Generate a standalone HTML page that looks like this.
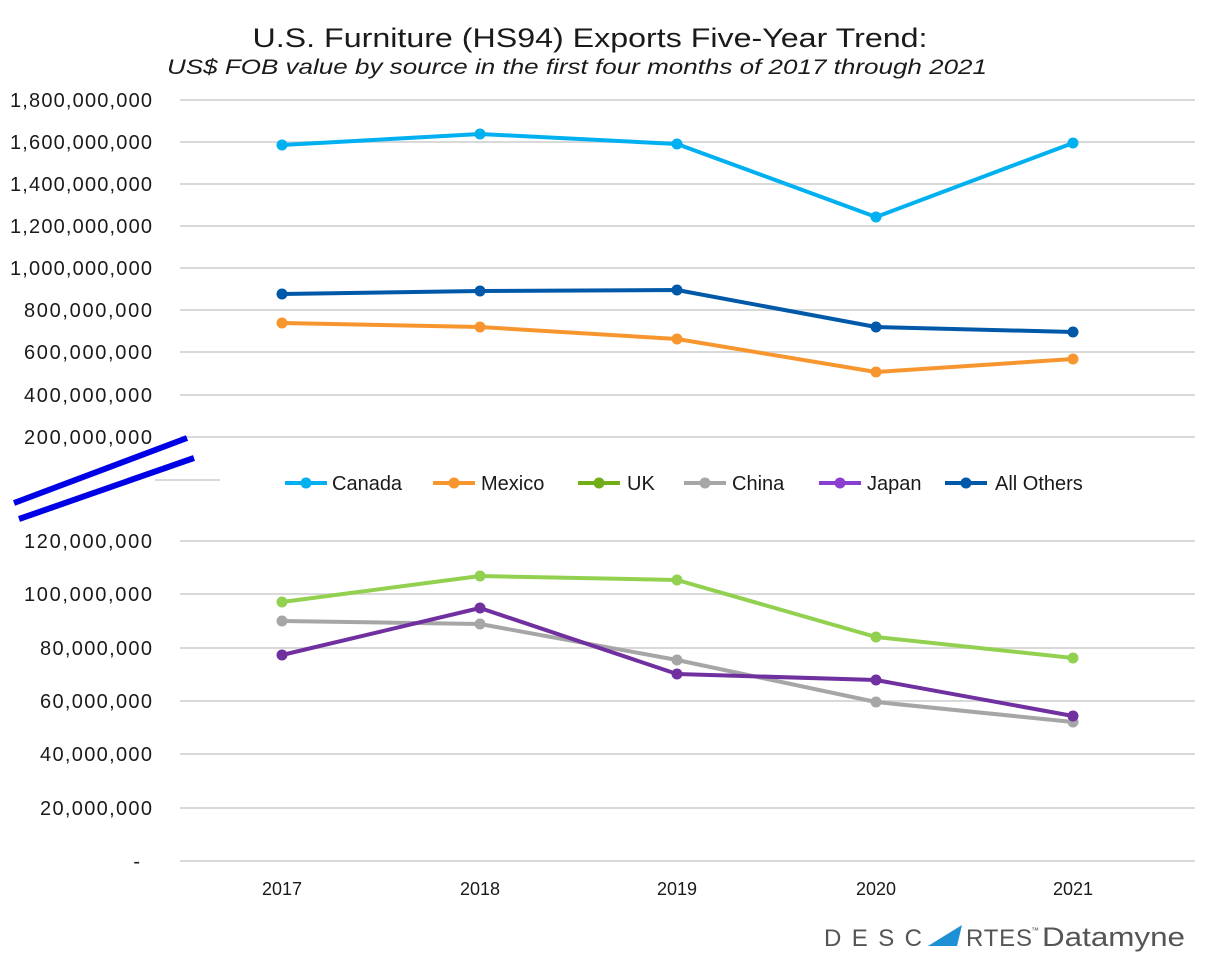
<!DOCTYPE html>
<html><head><meta charset="utf-8"><style>body{margin:0;background:#fff}svg{display:block}text{font-family:"Liberation Sans",sans-serif;fill:#1a1a1a}</style></head><body>
<svg width="1219" height="955" viewBox="0 0 1219 955">
<text x="590" y="47" font-size="27" text-anchor="middle" textLength="675" lengthAdjust="spacingAndGlyphs">U.S. Furniture (HS94) Exports Five-Year Trend:</text>
<text x="577" y="74" font-size="21" font-style="italic" text-anchor="middle" textLength="820" lengthAdjust="spacingAndGlyphs">US$ FOB value by source in the first four months of 2017 through 2021</text>
<g stroke="#d9d9d9" stroke-width="2">
<line x1="180" x2="1195" y1="100" y2="100"/><line x1="180" x2="1195" y1="142" y2="142"/><line x1="180" x2="1195" y1="184" y2="184"/><line x1="180" x2="1195" y1="226" y2="226"/><line x1="180" x2="1195" y1="268" y2="268"/><line x1="180" x2="1195" y1="310" y2="310"/><line x1="180" x2="1195" y1="352" y2="352"/><line x1="180" x2="1195" y1="395" y2="395"/><line x1="180" x2="1195" y1="437" y2="437"/><line x1="155" x2="220" y1="480" y2="480"/>
<line x1="180" x2="1195" y1="541" y2="541"/><line x1="180" x2="1195" y1="594" y2="594"/><line x1="180" x2="1195" y1="648" y2="648"/><line x1="180" x2="1195" y1="701" y2="701"/><line x1="180" x2="1195" y1="754" y2="754"/><line x1="180" x2="1195" y1="808" y2="808"/><line x1="180" x2="1195" y1="861" y2="861"/>
</g>
<g font-size="20" text-anchor="end">
<text x="152" y="107" textLength="142" lengthAdjust="spacing">1,800,000,000</text>
<text x="152" y="149" textLength="142" lengthAdjust="spacing">1,600,000,000</text>
<text x="152" y="191" textLength="142" lengthAdjust="spacing">1,400,000,000</text>
<text x="152" y="233" textLength="142" lengthAdjust="spacing">1,200,000,000</text>
<text x="152" y="275" textLength="142" lengthAdjust="spacing">1,000,000,000</text>
<text x="152" y="317" textLength="128" lengthAdjust="spacing">800,000,000</text>
<text x="152" y="359" textLength="128" lengthAdjust="spacing">600,000,000</text>
<text x="152" y="402" textLength="128" lengthAdjust="spacing">400,000,000</text>
<text x="152" y="444" textLength="128" lengthAdjust="spacing">200,000,000</text>
<text x="152" y="548" textLength="128" lengthAdjust="spacing">120,000,000</text>
<text x="152" y="601" textLength="128" lengthAdjust="spacing">100,000,000</text>
<text x="152" y="655" textLength="112" lengthAdjust="spacing">80,000,000</text>
<text x="152" y="708" textLength="112" lengthAdjust="spacing">60,000,000</text>
<text x="152" y="761" textLength="112" lengthAdjust="spacing">40,000,000</text>
<text x="152" y="815" textLength="112" lengthAdjust="spacing">20,000,000</text>
<text x="140" y="868">-</text>
</g>
<g font-size="18" text-anchor="middle">
<text x="282" y="895">2017</text><text x="480" y="895">2018</text><text x="677" y="895">2019</text><text x="876" y="895">2020</text><text x="1073" y="895">2021</text>
</g>
<g fill="none" stroke-width="4" stroke-linejoin="round">
<polyline stroke="#00b0f0" points="282,145 480,134 677,144 876,217 1073,143"/>
<polyline stroke="#0059a8" points="282,294 480,291 677,290 876,327 1073,332"/>
<polyline stroke="#f7962f" points="282,323 480,327 677,339 876,372 1073,359"/>
<polyline stroke="#92d050" points="282,602 480,576 677,580 876,637 1073,658"/>
<polyline stroke="#a6a6a6" points="282,621 480,624 677,660 876,702 1073,722"/>
<polyline stroke="#7030a0" points="282,655 480,608 677,674 876,680 1073,716"/>
</g>
<g>
<g fill="#00b0f0"><circle cx="282" cy="145" r="5.5"/><circle cx="480" cy="134" r="5.5"/><circle cx="677" cy="144" r="5.5"/><circle cx="876" cy="217" r="5.5"/><circle cx="1073" cy="143" r="5.5"/></g>
<g fill="#0059a8"><circle cx="282" cy="294" r="5.5"/><circle cx="480" cy="291" r="5.5"/><circle cx="677" cy="290" r="5.5"/><circle cx="876" cy="327" r="5.5"/><circle cx="1073" cy="332" r="5.5"/></g>
<g fill="#f7962f"><circle cx="282" cy="323" r="5.5"/><circle cx="480" cy="327" r="5.5"/><circle cx="677" cy="339" r="5.5"/><circle cx="876" cy="372" r="5.5"/><circle cx="1073" cy="359" r="5.5"/></g>
<g fill="#92d050"><circle cx="282" cy="602" r="5.5"/><circle cx="480" cy="576" r="5.5"/><circle cx="677" cy="580" r="5.5"/><circle cx="876" cy="637" r="5.5"/><circle cx="1073" cy="658" r="5.5"/></g>
<g fill="#a6a6a6"><circle cx="282" cy="621" r="5.5"/><circle cx="480" cy="624" r="5.5"/><circle cx="677" cy="660" r="5.5"/><circle cx="876" cy="702" r="5.5"/><circle cx="1073" cy="722" r="5.5"/></g>
<g fill="#7030a0"><circle cx="282" cy="655" r="5.5"/><circle cx="480" cy="608" r="5.5"/><circle cx="677" cy="674" r="5.5"/><circle cx="876" cy="680" r="5.5"/><circle cx="1073" cy="716" r="5.5"/></g>
</g>
<g stroke="#0000e6" stroke-width="6">
<line x1="14" y1="503" x2="187" y2="438"/><line x1="19" y1="519" x2="194" y2="458"/>
</g>
<g font-size="20" stroke-width="4">
<line x1="285" x2="327" y1="483" y2="483" stroke="#00b0f0"/><circle cx="306" cy="483" r="5.5" fill="#00b0f0"/><text x="332" y="490">Canada</text>
<line x1="433" x2="475" y1="483" y2="483" stroke="#f7962f"/><circle cx="454" cy="483" r="5.5" fill="#f7962f"/><text x="481" y="490">Mexico</text>
<line x1="578" x2="620" y1="483" y2="483" stroke="#70ad17"/><circle cx="599" cy="483" r="5.5" fill="#70ad17"/><text x="627" y="490">UK</text>
<line x1="684" x2="726" y1="483" y2="483" stroke="#a6a6a6"/><circle cx="705" cy="483" r="5.5" fill="#a6a6a6"/><text x="732" y="490">China</text>
<line x1="819" x2="861" y1="483" y2="483" stroke="#8b3fd0"/><circle cx="840" cy="483" r="5.5" fill="#8b3fd0"/><text x="867" y="490">Japan</text>
<line x1="945" x2="987" y1="483" y2="483" stroke="#0059a8"/><circle cx="966" cy="483" r="5.5" fill="#0059a8"/><text x="995" y="490">All Others</text>
</g>
<g font-size="24">
<text x="824" y="946" textLength="98" lengthAdjust="spacing" style="fill:#555">DESC</text>
<polygon points="928,946 962,925 957,946" fill="#1e90d6"/>
<text x="966" y="946" textLength="66" lengthAdjust="spacing" style="fill:#555">RTES</text>
<text x="1031" y="933" font-size="8" style="fill:#555">™</text>
<text x="1042" y="946" font-size="27" textLength="143" lengthAdjust="spacingAndGlyphs" style="fill:#555">Datamyne</text>
</g>
</svg>
</body></html>
